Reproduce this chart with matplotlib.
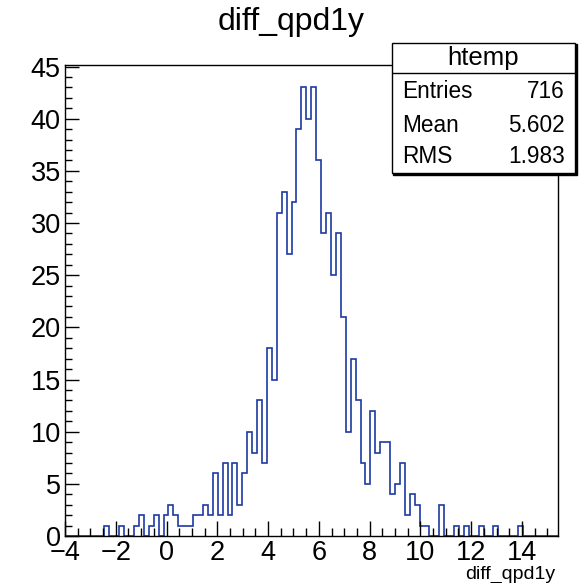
import numpy as np
import matplotlib
matplotlib.use("Agg")
import matplotlib.pyplot as plt
from matplotlib.patches import Rectangle

plt.rcParams['font.family'] = ['Liberation Sans', 'DejaVu Sans']

# histogram htemp: 100 bins from -4 to 15.4
x_lo = -4.0
x_hi = 15.4
counts = [
    0, 0, 0, 0, 0, 0, 0, 0, 1, 0,      # bins 0-9
    0, 1, 0, 0, 1, 2, 0, 1, 2, 0,      # 10-19
    2, 3, 2, 1, 1, 1, 2, 2, 3, 2,      # 20-29
    6, 2, 7, 2, 7, 3, 6, 10, 8, 13,    # 30-39
    7, 18, 15, 31, 33, 27, 32, 39, 43, 40,   # 40-49
    43, 36, 29, 31, 25, 29, 21, 10, 17, 13,  # 50-59
    7, 5, 12, 8, 9, 9, 4, 5, 7, 2,     # 60-69
    4, 3, 1, 1, 0, 0, 3, 0, 0, 1,      # 70-79
    0, 1, 0, 0, 1, 0, 0, 1, 0, 0,      # 80-89
    0, 0, 1, 0, 0, 0, 0, 0, 0, 0,      # 90-99
]
edges = np.linspace(x_lo, x_hi, len(counts) + 1)

title = "diff_qpd1y"
stats_name = "htemp"
stats_rows = [("Entries", "716"), ("Mean", "5.602"), ("RMS", "1.983")]

W, H = 582, 583
fig = plt.figure(figsize=(W / 100, H / 100), dpi=100)
ax = fig.add_axes([65 / W, 1 - 536 / H, (557.5 - 65) / W, (536 - 65) / H])

ax.stairs(counts, edges, color='#1c3aa3', linewidth=1.2)
ax.set_xlim(x_lo, x_hi)
ax.set_ylim(0, 45.15)

ax.set_xticks(np.arange(-4, 15, 2))
ax.set_xticks(np.arange(-4, 15.4, 0.5), minor=True)
ax.set_yticks(np.arange(0, 46, 5))
ax.set_yticks(np.arange(0, 46, 1), minor=True)

ax.tick_params(which='both', direction='in', top=False, right=False,
               labelsize=19.5, width=1, color='black')
ax.tick_params(axis='x', which='major', length=11, pad=3)
ax.tick_params(axis='x', which='minor', length=5.5)
ax.tick_params(axis='y', which='major', length=10, pad=3)
ax.tick_params(axis='y', which='minor', length=5)
for s in ax.spines.values():
    s.set_linewidth(1)

fig.text(0.5, 1 - 22 / H, title, ha='center', va='center', fontsize=23)
fig.text(555 / W, 1 - 574 / H, title, ha='right', va='center', fontsize=14)

# stats box
bx0, bx1, by0, by1 = 391.7, 575, 42.7, 173.3
box = fig.add_axes([bx0 / W, 1 - by1 / H, (bx1 - bx0) / W, (by1 - by0) / H])
box.set_xlim(bx0, bx1)
box.set_ylim(by1, by0)
box.axis('off')
box.add_patch(Rectangle((bx0 + 1.5, by0 + 1.5), bx1 - bx0, by1 - by0,
                        facecolor='black', edgecolor='black', clip_on=False))
box.add_patch(Rectangle((bx0, by0), bx1 - bx0, by1 - by0,
                        facecolor='white', edgecolor='black', linewidth=1, clip_on=False))
box.plot([bx0, bx1], [73.3, 73.3], color='black', linewidth=1)
box.text((bx0 + bx1) / 2, 57.5, stats_name, ha='center', va='center', fontsize=18.5)
row_y = [91.7, 125, 156.7]
for (lab, val), yy in zip(stats_rows, row_y):
    box.text(401.7, yy, lab, ha='left', va='center', fontsize=16.3)
    box.text(565, yy, val, ha='right', va='center', fontsize=16.3)

fig.savefig("out.png", dpi=100)
